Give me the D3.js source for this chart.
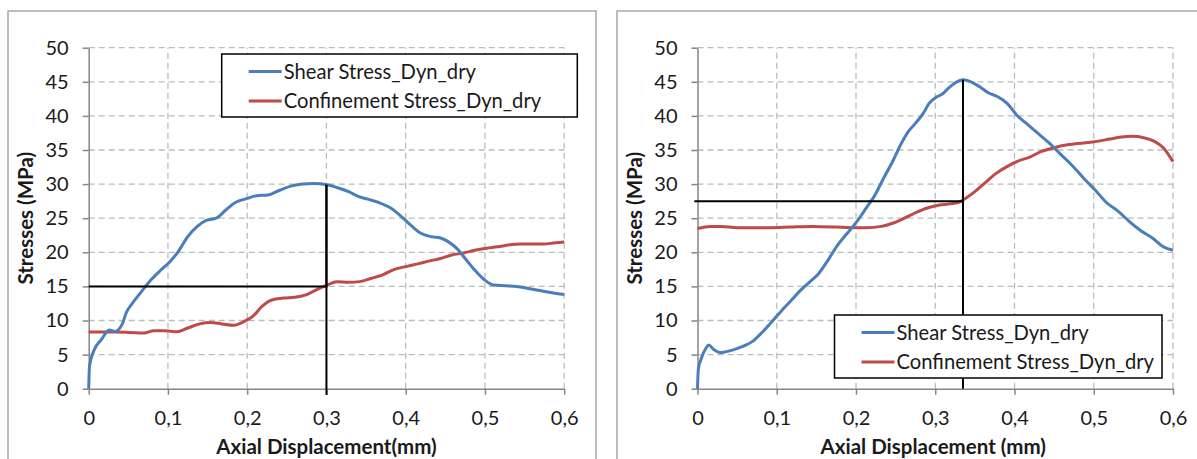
<!DOCTYPE html>
<html>
<head>
<meta charset="utf-8">
<script src="https://cdn.jsdelivr.net/npm/d3@7"></script>
<style>
  body { margin: 0; background: #fff; }
  svg { font-family: Lato, "Open Sans", sans-serif; }
</style>
</head>
<body>
<script>
// values: [axial displacement (mm), stress (MPa)]
let leftShear = [[0,0],[0.001,3.3],[0.007,5.7],[0.016,7.2],[0.026,8.6],[0.033,8.4],[0.042,9.4],[0.048,11.3],[0.055,12.5],[0.067,14.3],[0.079,16.0],[0.091,17.4],[0.103,18.7],[0.113,20.1],[0.125,22.3],[0.137,23.8],[0.149,24.7],[0.161,25.0],[0.173,26.2],[0.185,27.3],[0.2,27.9],[0.212,28.3],[0.226,28.4],[0.241,29.1],[0.255,29.7],[0.27,30.0],[0.284,30.1],[0.301,29.9],[0.313,29.5],[0.328,28.9],[0.34,28.2],[0.352,27.8],[0.366,27.3],[0.381,26.5],[0.395,25.2],[0.407,23.9],[0.419,22.8],[0.432,22.3],[0.444,22.1],[0.453,21.6],[0.465,20.5],[0.475,19.1],[0.487,17.4],[0.499,16.0],[0.511,15.2],[0.526,15.1],[0.54,15.0],[0.555,14.7],[0.569,14.4],[0.583,14.1],[0.6,13.8]]
let leftConf = [[0,8.3],[0.033,8.3],[0.052,8.25],[0.07,8.15],[0.082,8.5],[0.096,8.5],[0.111,8.35],[0.125,8.9],[0.14,9.5],[0.154,9.7],[0.168,9.5],[0.183,9.3],[0.197,9.9],[0.207,10.6],[0.219,12.1],[0.231,13.0],[0.246,13.3],[0.26,13.4],[0.275,13.8],[0.289,14.6],[0.301,15.2],[0.313,15.7],[0.328,15.6],[0.342,15.7],[0.357,16.2],[0.371,16.7],[0.386,17.5],[0.4,17.9],[0.415,18.3],[0.429,18.7],[0.444,19.1],[0.458,19.6],[0.473,19.9],[0.487,20.3],[0.502,20.6],[0.516,20.8],[0.531,21.1],[0.545,21.2],[0.56,21.2],[0.574,21.2],[0.589,21.4],[0.6,21.5]]
let rightShear = [[0,0],[0.001,2.8],[0.005,4.5],[0.011,6.0],[0.014,6.4],[0.021,5.7],[0.028,5.3],[0.035,5.4],[0.045,5.7],[0.057,6.2],[0.069,6.9],[0.081,8.2],[0.093,9.7],[0.105,11.3],[0.117,12.8],[0.129,14.3],[0.141,15.6],[0.153,16.9],[0.165,18.9],[0.177,21.1],[0.189,22.8],[0.201,24.5],[0.213,26.5],[0.223,28.2],[0.235,30.9],[0.247,33.5],[0.256,35.7],[0.266,37.7],[0.275,38.9],[0.285,40.4],[0.292,41.8],[0.302,42.8],[0.309,43.2],[0.316,44.0],[0.326,44.9],[0.335,45.3],[0.345,45.0],[0.357,44.2],[0.367,43.4],[0.379,42.8],[0.391,41.8],[0.403,40.1],[0.415,38.9],[0.429,37.5],[0.444,36.0],[0.458,34.4],[0.473,32.7],[0.487,30.9],[0.502,29.1],[0.516,27.3],[0.531,26.0],[0.545,24.5],[0.559,23.2],[0.574,22.1],[0.588,20.8],[0.6,20.3]]
let rightConf = [[0,23.5],[0.016,23.8],[0.03,23.8],[0.05,23.6],[0.069,23.6],[0.093,23.6],[0.117,23.7],[0.146,23.8],[0.175,23.7],[0.194,23.6],[0.213,23.6],[0.232,23.8],[0.247,24.3],[0.261,25.0],[0.275,25.8],[0.29,26.5],[0.304,26.9],[0.319,27.1],[0.331,27.4],[0.338,27.9],[0.35,28.9],[0.362,30.1],[0.376,31.5],[0.391,32.6],[0.405,33.4],[0.42,34.0],[0.434,34.8],[0.449,35.3],[0.463,35.7],[0.477,35.9],[0.492,36.1],[0.506,36.3],[0.52,36.6],[0.535,36.9],[0.549,37.0],[0.563,36.8],[0.576,36.3],[0.588,35.3],[0.6,33.3]]

// black guide lines drawn by hand on the charts
let leftGuide = [[0,15],[0.3,15],[0.3,29.9]]
let leftGuideDrop = [[0.3,29.9],[0.3,-0.9]]
let rightGuide = [[-0.004,27.5],[0.335,27.5]]
let rightGuideDrop = [[0.335,45.3],[0.335,0]]

let xTicks = [0,0.1,0.2,0.3,0.4,0.5,0.6]
let yTicks = [0,5,10,15,20,25,30,35,40,45,50]
let seriesNames = ["Shear Stress_Dyn_dry","Confinement Stress_Dyn_dry"]
let seriesColors = ["#4a7ebb","#be4b48"]
let yTitle = "Stresses (MPa)"
let xTitles = ["Axial Displacement(mm)","Axial Displacement (mm)"]

let svg = d3.select("body").append("svg")
            .attr("width", 1197)
            .attr("height", 459)

function drawChart(o) {
    let g = svg.append("g")
    g.append("rect")
        .attr("x", o.fx).attr("y", 11)
        .attr("width", o.fw).attr("height", 470)
        .attr("fill", "#fff").attr("stroke", "#a6a6a6").attr("stroke-width", 1.5)

    let x = d3.scaleLinear().domain([0, 0.6]).range([o.left, o.left + 475.5])
    let y = d3.scaleLinear().domain([0, 50]).range([388.7, 47.7])

    // dashed grid
    g.append("g").selectAll("line")
        .data(yTicks.slice(1)).enter().append("line")
        .attr("x1", x(0)).attr("x2", x(0.6))
        .attr("y1", d=>y(d)).attr("y2", d=>y(d))
        .attr("stroke", "#bcbcbc").attr("stroke-width", 1.3).attr("stroke-dasharray", "6,4")
    g.append("g").selectAll("line")
        .data(xTicks.slice(1)).enter().append("line")
        .attr("x1", d=>x(d)).attr("x2", d=>x(d))
        .attr("y1", y(0)).attr("y2", y(50))
        .attr("stroke", "#bcbcbc").attr("stroke-width", 1.3).attr("stroke-dasharray", "6,4")

    let yAxis = d3.axisLeft(y).tickValues(yTicks).tickSize(6).tickSizeOuter(0).tickPadding(14)
    let xAxis = d3.axisBottom(x).tickValues(xTicks).tickSize(6).tickSizeOuter(0).tickPadding(16)
        .tickFormat(d=>d3.format("")(d).replace(".", ","))

    let ya = g.append("g").attr("transform", "translate(" + x(0) + ",0)").call(yAxis)
    let xa = g.append("g").attr("transform", "translate(0," + y(0) + ")").call(xAxis)
    for (let a of [ya, xa]) {
        a.select(".domain").attr("stroke", "#868686").attr("stroke-width", 1.5)
        a.selectAll(".tick line").attr("stroke", "#868686").attr("stroke-width", 1.5)
        a.selectAll(".tick text").attr("font-size", 20).attr("fill", "#1a1a1a")
            .attr("font-family", "Lato, 'Open Sans', sans-serif")
    }

    let line = d3.line().x(d=>x(d[0])).y(d=>y(d[1])).curve(d3.curveMonotoneX)
    let guide = d3.line().x(d=>x(d[0])).y(d=>y(d[1]))

    g.append("path").datum(o.conf).attr("d", line)
        .attr("fill", "none").attr("stroke", seriesColors[1]).attr("stroke-width", 3)
    g.append("path").datum(o.shear).attr("d", line)
        .attr("fill", "none").attr("stroke", seriesColors[0]).attr("stroke-width", 3)
    for (let gd of o.guides) {
        g.append("path").datum(gd).attr("d", guide)
            .attr("fill", "none").attr("stroke", "#000").attr("stroke-width", 2)
    }

    // legend
    let lg = g.append("g").attr("transform", "translate(" + o.lx + "," + o.ly + ")")
    lg.append("rect").attr("width", o.lw).attr("height", 63)
        .attr("fill", "#fff").attr("stroke", "#000").attr("stroke-width", 1.5)
    seriesNames.forEach((n, i) => {
        let yy = 17.5 + i * 29.5
        lg.append("line").attr("x1", 27).attr("x2", 60).attr("y1", yy).attr("y2", yy)
            .attr("stroke", seriesColors[i]).attr("stroke-width", 3)
        lg.append("text").attr("x", 62).attr("y", yy).attr("dy", "0.35em")
            .attr("font-size", 20.2).attr("fill", "#1a1a1a").text(n)
    })

    g.append("text")
        .attr("transform", "translate(" + (o.fx + 18) + "," + y(25) + ") rotate(-90)")
        .attr("text-anchor", "middle").attr("dy", "0.35em")
        .attr("font-size", 20.5).attr("font-weight", "bold").attr("fill", "#1a1a1a")
        .text(yTitle)
    g.append("text")
        .attr("x", x(0.3) + o.titleShift).attr("y", 447).attr("dy", "0.35em")
        .attr("text-anchor", "middle")
        .attr("font-size", 20.5).attr("font-weight", "bold").attr("fill", "#1a1a1a")
        .text(o.xTitle)
}

drawChart({fx: 8, fw: 588, left: 88.7, shear: leftShear, conf: leftConf,
    guides: [leftGuide, leftGuideDrop], lx: 221.7, ly: 54, lw: 355.6, xTitle: xTitles[0], titleShift: 0})
drawChart({fx: 617, fw: 600, left: 697.5, shear: rightShear, conf: rightConf,
    guides: [rightGuide, rightGuideDrop], lx: 834.5, ly: 315, lw: 327.5, xTitle: xTitles[1], titleShift: -2})
</script>
</body>
</html>
